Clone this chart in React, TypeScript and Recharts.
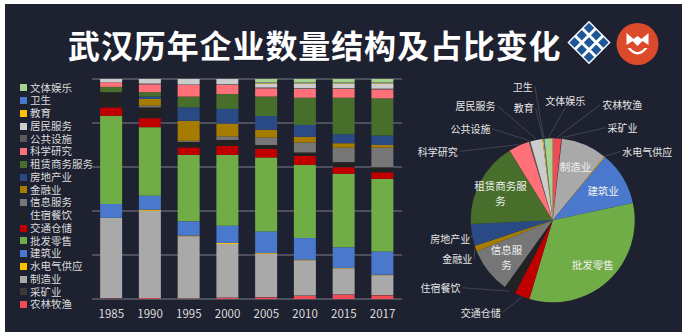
import React from 'react';
import { BarChart, Bar, XAxis, YAxis, CartesianGrid, PieChart, Pie, Cell } from 'recharts';

// ---------- data ----------
const years = ['1985', '1990', '1995', '2000', '2005', '2010', '2015', '2017'];

// share of enterprises (%) per industry, per year
const agriculture = [0.2, 0.4, 0.2, 0.6, 0.8, 1.5, 2.0, 1.7]; // 农林牧渔
const mining = [0.2, 0.1, 0.1, 0.1, 0.1, 0.1, 0.1, 0.1]; // 采矿业
const manufacturing = [36.4, 39.6, 28.2, 24.3, 19.7, 16.0, 11.8, 9.0]; // 制造业
const utilities = [0.1, 0.5, 0.3, 0.5, 0.3, 0.3, 0.2, 0.2]; // 水电气供应
const construction = [6.3, 6.3, 6.5, 7.8, 9.8, 9.8, 9.4, 10.6]; // 建筑业
const wholesale = [40.1, 31.2, 30.2, 32.2, 33.6, 33.3, 33.4, 33.0]; // 批发零售
const transport = [3.8, 4.1, 3.4, 4.1, 3.9, 4.1, 3.0, 3.0]; // 交通仓储
const hospitality = [6.9, 4.9, 2.5, 2.7, 1.8, 1.5, 2.3, 2.3]; // 住宿餐饮
const infoServices = [0, 0.8, 0.5, 1.6, 3.4, 4.5, 6.6, 8.9]; // 信息服务
const finance = [0, 3.0, 9.1, 5.8, 3.5, 2.6, 2.0, 1.2]; // 金融业
const realEstate = [0, 1.1, 6.1, 6.7, 6.3, 5.4, 4.1, 4.3]; // 房地产业
const leasing = [2.4, 2.0, 4.9, 6.8, 8.8, 12.4, 16.6, 16.9]; // 租赁商务服务
const research = [2.1, 3.6, 5.3, 4.1, 3.8, 4.0, 4.0, 4.1]; // 科学研究
const publicFacilities = [0, 0.3, 0.2, 0.3, 0.3, 0.3, 0.3, 0.3]; // 公共设施
const residentServices = [1.5, 2.1, 2.5, 2.4, 1.9, 2.2, 2.2, 2.4]; // 居民服务
const education = [0, 0, 0, 0, 0.2, 0.2, 0.2, 0.2]; // 教育
const health = [0, 0, 0, 0, 0.2, 0.2, 0.2, 0.2]; // 卫生
const culture = [0, 0, 0, 0, 1.6, 1.6, 1.6, 1.6]; // 文体娱乐

// stacking order, bottom to top
const seriesNames = [
  '农林牧渔', '采矿业', '制造业', '水电气供应', '建筑业', '批发零售', '交通仓储', '住宿餐饮',
  '信息服务', '金融业', '房地产业', '租赁商务服务', '科学研究', '公共设施', '居民服务', '教育', '卫生', '文体娱乐',
];
const seriesValues = [
  agriculture, mining, manufacturing, utilities, construction, wholesale, transport, hospitality,
  infoServices, finance, realEstate, leasing, research, publicFacilities, residentServices, education, health, culture,
];
const gridTicks = [0, 10, 20, 30, 40, 50, 60, 70, 80, 90, 100];
const pieYearIndex = 7; // 2017

const title = '武汉历年企业数量结构及占比变化';

// ---------- styles ----------
const seriesColors = [
  '#f04a55', '#3a3a3a', '#a9a9a9', '#ffc000', '#4a78cc', '#70ad47', '#c00000', '#222222',
  '#767676', '#a67c00', '#2a4a85', '#476e2a', '#ff7078', '#5a5a5a', '#cccccc', '#ffc000', '#4a78cc', '#a9d18e',
];
const FONT = '"Noto Sans CJK SC", "Noto Sans", sans-serif';
const BG = '#1e2130';
const TEXT = '#dcdcdc';

// label layout for the pie (polar: degrees, distance from centre)
const insideLabelLines: Record<string, string[]> = {
  '制造业': ['制造业'],
  '建筑业': ['建筑业'],
  '批发零售': ['批发零售'],
  '信息服务': ['信息服', '务'],
  '租赁商务服务': ['租赁商务服', '务'],
};
const outsideLabelPlacement: Record<string, [number, number]> = {
  '农林牧渔': [59, 135],
  '采矿业': [53, 116],
  '水电气供应': [36, 117],
  '交通仓储': [232, 117],
  '住宿餐饮': [211, 131],
  '金融业': [202, 103],
  '房地产业': [190, 104],
  '科学研究': [149, 134],
  '公共设施': [132, 123],
  '居民服务': [124, 138],
  '教育': [104.5, 116],
  '卫生': [102.6, 137],
  '文体娱乐': [84, 120],
};

// ---------- derived tables ----------
const barData = years.map((year, yi) => {
  const row: Record<string, any> = { year };
  seriesNames.forEach((n, si) => {
    row[n] = seriesValues[si][yi];
  });
  return row;
});
const pieData = seriesNames.map((n, si) => ({ name: n, value: seriesValues[si][pieYearIndex] }));

const RAD = Math.PI / 180;

const renderPieLabel = (props: any) => {
  const { cx, cy, midAngle, outerRadius, index } = props;
  const name = seriesNames[index];
  const lines = insideLabelLines[name];
  if (lines) {
    const r = outerRadius * 0.72;
    const x = cx + r * Math.cos(-midAngle * RAD);
    const y = cy + r * Math.sin(-midAngle * RAD);
    const lh = 15;
    const y0 = y - ((lines.length - 1) * lh) / 2;
    return (
      <text key={'l' + index} fontFamily={FONT} fontSize={10.5} fill="#f0f0f0" textAnchor="middle" dominantBaseline="central">
        {lines.map((l, i) => (
          <tspan key={i} x={x} y={y0 + i * lh}>{l}</tspan>
        ))}
      </text>
    );
  }
  const place = outsideLabelPlacement[name];
  if (!place) return null;
  const [ang, dist] = place;
  const lx = cx + dist * Math.cos(-ang * RAD);
  const ly = cy + dist * Math.sin(-ang * RAD);
  const px = cx + (outerRadius + 1) * Math.cos(-midAngle * RAD);
  const py = cy + (outerRadius + 1) * Math.sin(-midAngle * RAD);
  const halfW = (name.length * 10) / 2;
  let ex = lx;
  let ey = ly + 7;
  if (lx < cx - 15) {
    ex = lx + halfW + 2;
    ey = ly;
  } else if (lx > cx + 15) {
    ex = lx - halfW - 2;
    ey = ly;
  }
  return (
    <g key={'l' + index}>
      <line x1={px} y1={py} x2={ex} y2={ey} stroke="#4a4e59" strokeWidth={0.8} />
      <text x={lx} y={ly} fontFamily={FONT} fontSize={10} fill="#e6e6e6" textAnchor="middle" dominantBaseline="central">
        {name}
      </text>
    </g>
  );
};

const LegendList = () => {
  const items = seriesNames.map((n, i) => ({ n, c: seriesColors[i] })).reverse();
  return (
    <div style={{ position: 'absolute', left: 20, top: 81.6, display: 'flex', flexDirection: 'column', fontFamily: FONT }}>
      {items.map((it) => (
        <div key={it.n} style={{ height: 12.75, display: 'flex', alignItems: 'center', whiteSpace: 'nowrap' }}>
          <span style={{ width: 7, height: 7, background: it.c, display: 'block', marginRight: 3, flex: 'none' }} />
          <span
            style={{
              display: 'block', height: 12.75, lineHeight: '12.75px', fontSize: 10.5, color: TEXT, overflow: 'visible',
            }}
          >
            {it.n}
          </span>
        </div>
      ))}
    </div>
  );
};

const DiamondLogo = () => {
  const cells: React.ReactNode[] = [];
  const step = 10.2;
  for (let r = 0; r < 3; r++) {
    for (let c = 0; c < 3; c++) {
      cells.push(
        <rect
          key={r + '-' + c}
          x={-15.3 + c * step + 1.4}
          y={-15.3 + r * step + 1.4}
          width={step - 2.8}
          height={step - 2.8}
          fill="#1d5796"
        />
      );
    }
  }
  return (
    <g transform="translate(589,42.5) rotate(45)">
      <rect x={-15.3} y={-15.3} width={30.6} height={30.6} fill="#ffffff" />
      {cells}
    </g>
  );
};

const CircleLogo = () => (
  <g transform="translate(637.5,44)">
    <circle r={21} fill="#dc4a2c" />
    <path d="M -11 -11 L -11 1 L -5 -3 L 0 2 L 5 -3 L 11 1 L 11 -11 L 4 -5 L 0 -8 L -4 -5 Z" fill="#ffffff" />
    <path d="M -10 4 Q 0 17 10 4 L 7 4 Q 0 12 -7 4 Z" fill="#ffffff" />
  </g>
);

export default function App() {
  return (
    <div style={{ position: 'fixed', left: 0, top: 0, width: 686, height: 332, background: '#ffffff', overflow: 'hidden' }}>
      <div style={{ position: 'absolute', left: 5, top: 4, width: 677, height: 328, background: BG }} />
      <div
        style={{
          position: 'absolute', left: 68, top: 26, fontFamily: FONT, fontWeight: 700, fontSize: 32,
          lineHeight: '36px', letterSpacing: 0.9, color: '#ffffff', whiteSpace: 'nowrap',
        }}
      >
        {title}
      </div>
      <svg style={{ position: 'absolute', left: 0, top: 0 }} width={686} height={80}>
        <DiamondLogo />
        <CircleLogo />
      </svg>
      <LegendList />
      <div style={{ position: 'absolute', left: 0, top: 0 }}>
        <BarChart
          width={410}
          height={332}
          data={barData}
          margin={{ top: 79, right: 8, left: 92, bottom: 0 }}
          barCategoryGap="21%"
        >
          <CartesianGrid vertical={false} stroke="#7c7f89" strokeWidth={1} />
          <YAxis hide type="number" domain={[0, 100]} ticks={gridTicks} />
          <XAxis
            dataKey="year"
            axisLine={false}
            tickLine={false}
            interval={0}
            height={33}
            tickMargin={5}
            tick={{ fill: TEXT, fontSize: 11.5, fontFamily: FONT }}
          />
          {seriesNames.map((n, i) => (
            <Bar key={n} dataKey={n} stackId="s" fill={seriesColors[i]} isAnimationActive={false} />
          ))}
        </BarChart>
      </div>
      <div style={{ position: 'absolute', left: 400, top: 0 }}>
        <PieChart width={286} height={332} margin={{ top: 0, right: 0, left: 0, bottom: 0 }}>
          <Pie
            data={pieData}
            dataKey="value"
            nameKey="name"
            cx={152.7}
            cy={220.3}
            outerRadius={82}
            startAngle={90}
            endAngle={-270}
            stroke="none"
            label={renderPieLabel}
            labelLine={false}
            isAnimationActive={false}
          >
            {pieData.map((d, i) => (
              <Cell key={d.name} fill={seriesColors[i]} />
            ))}
          </Pie>
        </PieChart>
      </div>
    </div>
  );
}
